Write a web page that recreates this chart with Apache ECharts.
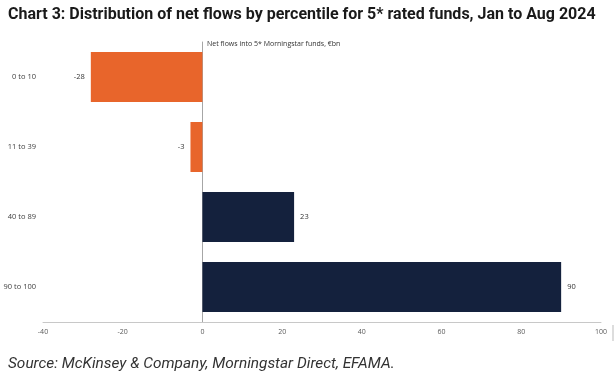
<!DOCTYPE html>
<html><head><meta charset="utf-8">
<script src="https://cdn.jsdelivr.net/npm/echarts@6/dist/echarts.min.js"></script>
<style>html,body{margin:0;padding:0;background:#fff}#c{width:614px;height:373px}</style>
</head><body><div id="c"></div>
<script>
const categories = ['0 to 10', '11 to 39', '40 to 89', '90 to 100'];
const values = [-28, -3, 23, 90];
const xTicks = [-40, -20, 0, 20, 40, 60, 80, 100];

const chart = echarts.init(document.getElementById('c'), null, {renderer: 'canvas'});
chart.setOption({
  backgroundColor: '#fff',
  animation: false,
  title: [{
    text: 'Chart 3: Distribution of net flows by percentile for 5* rated funds, Jan to Aug 2024',
    left: 3, top: 2,
    textStyle: {fontFamily: 'Roboto', fontWeight: 'bold', fontSize: 16, color: '#1a1a1a'}
  }, {
    text: 'Source: McKinsey & Company, Morningstar Direct, EFAMA.',
    left: 3, top: 352,
    textStyle: {fontFamily: 'Roboto', fontStyle: 'italic', fontWeight: 'normal', fontSize: 15.4, color: '#333'}
  }],
  graphic: [{
    type: 'text', left: 207, top: 40,
    style: {text: 'Net flows into 5* Morningstar funds, €bn', fontFamily: 'Open Sans', fontSize: 7, fill: '#333'}
  }, {
    type: 'line', shape: {x1: 613, y1: 325, x2: 613, y2: 341}, style: {stroke: '#bbb', lineWidth: 1}
  }],
  grid: {left: 43, right: 13, top: 42, bottom: 51, containLabel: false},
  xAxis: {
    type: 'value', min: xTicks[0], max: xTicks[xTicks.length - 1], interval: 20,
    axisLine: {show: true, lineStyle: {color: '#c8c8c8'}},
    axisTick: {show: false},
    splitLine: {show: false},
    axisLabel: {fontFamily: 'Open Sans', fontSize: 7, color: '#595959', margin: 6}
  },
  yAxis: {
    type: 'category', data: categories, inverse: true,
    axisLine: {show: true, onZero: true, lineStyle: {color: '#a6a6a6'}},
    axisTick: {show: false},
    axisLabel: {fontFamily: 'Open Sans', fontSize: 7.5, color: '#404040', margin: 7}
  },
  series: [{
    type: 'bar',
    barWidth: 50,
    data: values.map(v => ({
      value: v,
      itemStyle: {color: v < 0 ? '#E8652B' : '#14213D'},
      label: {position: v < 0 ? 'left' : 'right'}
    })),
    label: {show: true, fontFamily: 'Open Sans', fontSize: 7.5, color: '#333', distance: 6}
  }]
});
</script></body></html>
